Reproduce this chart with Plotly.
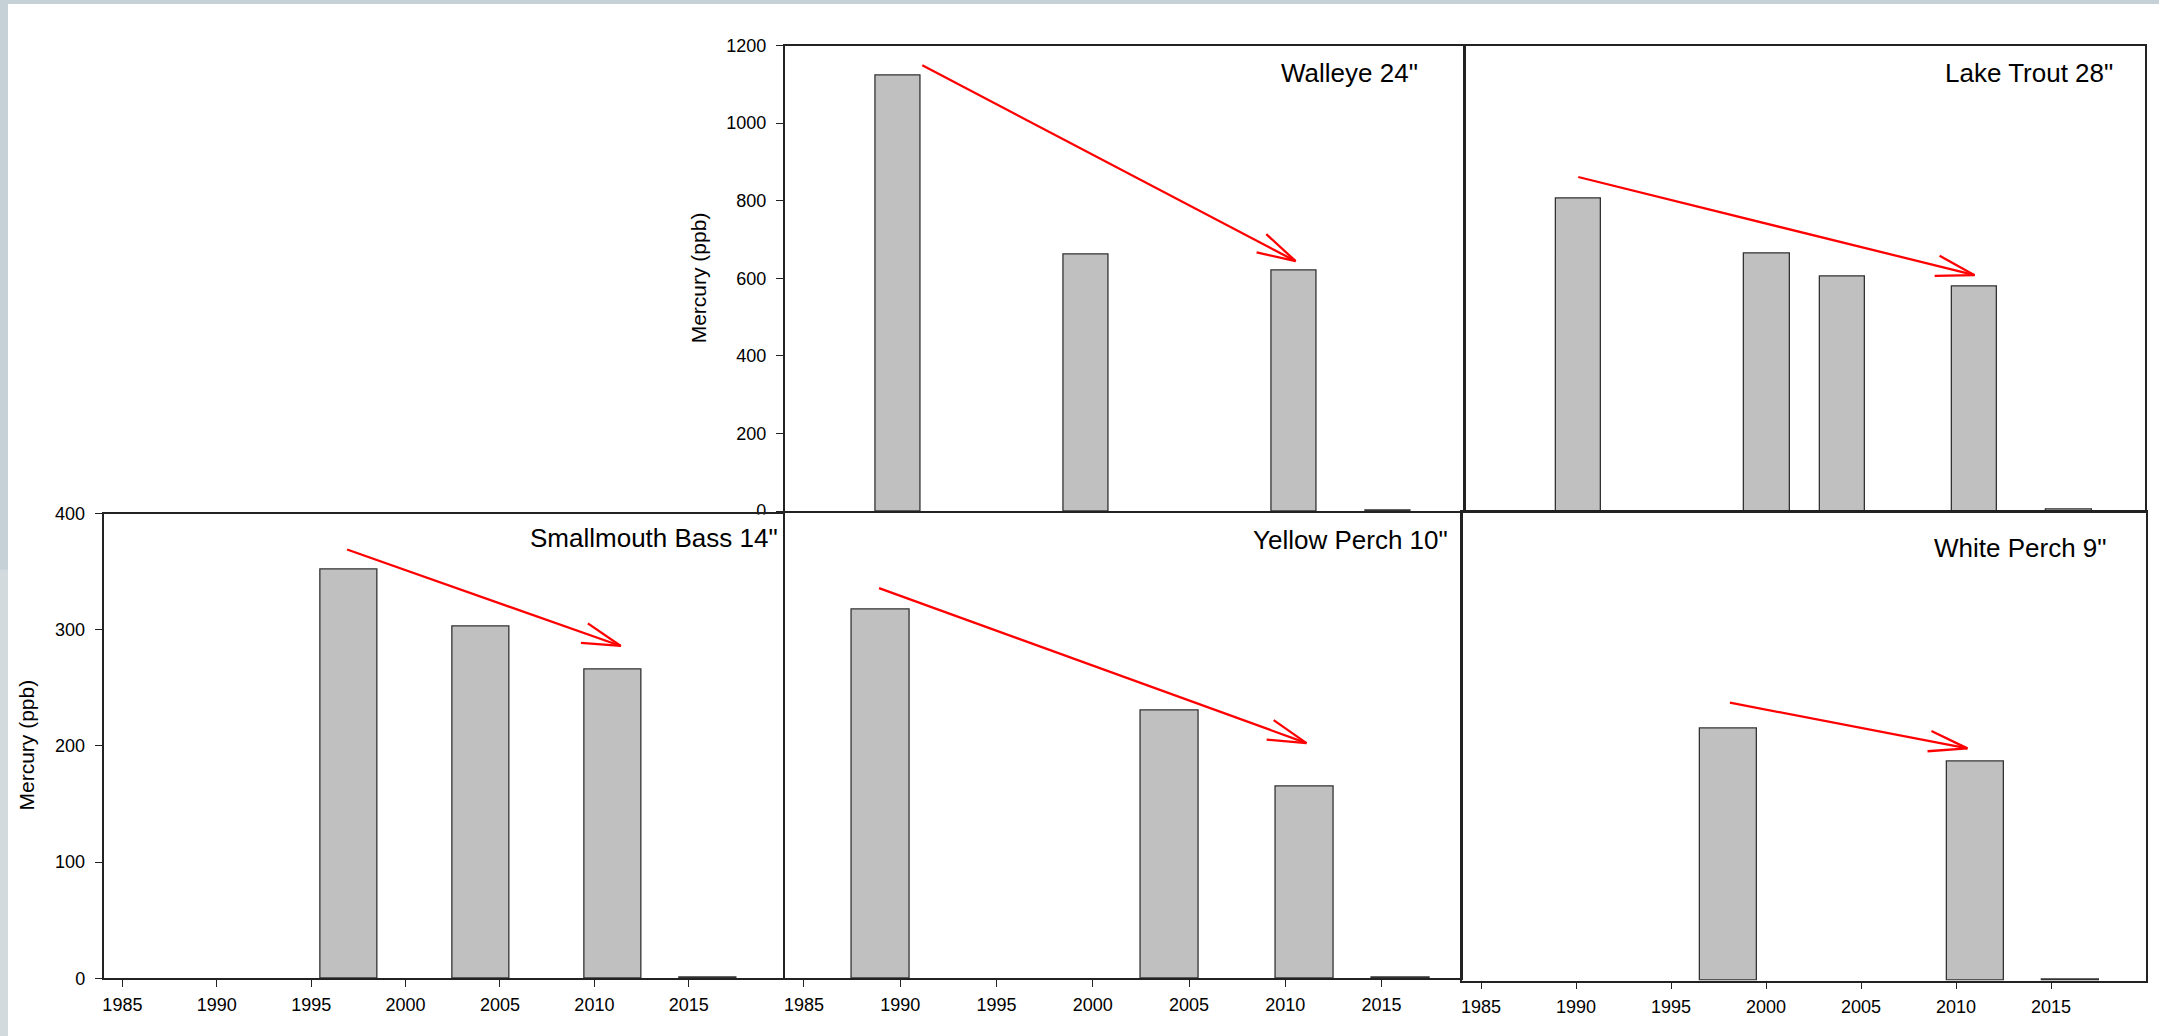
import math
import plotly.graph_objects as go

# ---------------- data ----------------
walleye_years = [1990, 2000, 2011, 2016]
walleye_hg = [1123, 661, 619, 2]

trout_years = [1990, 2000, 2004, 2011, 2016]
trout_hg = [806, 664, 604, 580, 3]

bass_years = [1997, 2004, 2011, 2016]
bass_hg = [352, 303, 266, 1]

yperch_years = [1989, 2004, 2011, 2016]
yperch_hg = [317, 230, 165, 1]

wperch_years = [1998, 2011, 2016]
wperch_hg = [215, 187, 1]

panel_titles = ['Walleye 24"', 'Lake Trout 28"', 'Smallmouth Bass 14"',
                'Yellow Perch 10"', 'White Perch 9"']
year_ticks = [1985, 1990, 1995, 2000, 2005, 2010, 2015]
top_yticks = [0, 200, 400, 600, 800, 1000, 1200]
bottom_yticks = [0, 100, 200, 300, 400]
y_title = "Mercury (ppb)"

# trend arrows: (start year, start value, end year, end value)
arrow_walleye = [1991.3, 1149, 2011.1, 644]
arrow_trout = [1990.0, 861, 2011.0, 608]
arrow_bass = [1996.9, 369, 2011.4, 286]
arrow_yperch = [1988.9, 335, 2011.1, 202]
arrow_wperch = [1998.1, 237, 2010.6, 198]

# ---------------- layout geometry (pixels) ----------------
W, H = 2159, 1036
FONT = "Liberation Sans, Arial, sans-serif"
TICK_SIZE = 18

panels = [
    dict(years=walleye_years, vals=walleye_hg, bw=2.4, xp=(784.6, 1463.5), yp=(45.5, 511.0),
         xr=(1984, 2020), yr=(0, 1200), yt=top_yticks, showy=True, showx=False,
         arrow=arrow_walleye, inset=43.5, capy=74.0),
    dict(years=trout_years, vals=trout_hg, bw=2.4, xp=(1465.0, 2144.5), yp=(45.5, 511.0),
         xr=(1984, 2020), yr=(0, 1200), yt=top_yticks, showy=False, showx=False,
         arrow=arrow_trout, inset=29.5, capy=74.0),
    dict(years=bass_years, vals=bass_hg, bw=3.0, xp=(103.5, 783.2), yp=(513.5, 978.3),
         xr=(1984, 2020), yr=(0, 400), yt=bottom_yticks, showy=True, showx=True,
         arrow=arrow_bass, inset=3.5, capy=538.8),
    dict(years=yperch_years, vals=yperch_hg, bw=3.0, xp=(784.7, 1460.5), yp=(512.5, 978.3),
         xr=(1984, 2019.1), yr=(0, 400), yt=bottom_yticks, showy=False, showx=True,
         arrow=arrow_yperch, inset=10.3, capy=541.3),
    dict(years=wperch_years, vals=wperch_hg, bw=3.0, xp=(1462.0, 2146.0), yp=(511.6, 980.5),
         xr=(1984, 2020), yr=(0, 400), yt=bottom_yticks, showy=False, showx=True,
         arrow=arrow_wperch, inset=36.6, capy=548.8),
]

fig = go.Figure()
layout = dict(
    width=W, height=H, margin=dict(l=0, r=0, t=0, b=0, pad=0, autoexpand=False),
    paper_bgcolor="#c6d0d7", plot_bgcolor="white",
    showlegend=False, font=dict(family=FONT, color="black", size=17),
    bargap=0,
)
shapes = [
    dict(type="rect", xref="paper", yref="paper", x0=8 / W, x1=1, y0=0, y1=1 - 4 / H,
         fillcolor="white", line=dict(width=0), layer="below"),
    dict(type="rect", xref="paper", yref="paper", x0=0, x1=8 / W, y0=0, y1=0.45,
         fillcolor="#d3dade", line=dict(width=0), layer="below"),
    # the lower panels sit in front of the bottom of the Walleye "0" label
    dict(type="rect", xref="paper", yref="paper", x0=752 / W, x1=779 / W,
         y0=1 - 524 / H, y1=1 - 514.6 / H, fillcolor="white", line=dict(width=0), layer="above"),
]
annotations = []

for i, p in enumerate(panels):
    n = "" if i == 0 else str(i + 1)
    xa, ya = "x" + n, "y" + n
    fig.add_trace(go.Bar(
        x=p["years"], y=p["vals"], width=p["bw"], xaxis=xa, yaxis=ya,
        marker=dict(color="#c0c0c0", line=dict(color="#333333", width=1.3)),
        hoverinfo="x+y",
    ))
    x0p, x1p = p["xp"]
    y0p, y1p = p["yp"]
    layout["xaxis" + n] = dict(
        domain=[x0p / W, x1p / W], range=list(p["xr"]), anchor=ya, automargin=False,
        showgrid=False, zeroline=False, showline=True, mirror=True,
        linecolor="#222222", linewidth=1.5,
        ticks="outside" if p["showx"] else "", ticklen=7, tickwidth=1.3, tickcolor="#222222",
        tickvals=year_ticks if p["showx"] else [], showticklabels=p["showx"],
        tickfont=dict(size=TICK_SIZE, family=FONT), ticklabelstandoff=2,
    )
    layout["yaxis" + n] = dict(
        domain=[1 - y1p / H, 1 - y0p / H], range=list(p["yr"]), anchor=xa, automargin=False,
        showgrid=False, zeroline=False, showline=True, mirror=True,
        linecolor="#222222", linewidth=1.5,
        ticks="outside" if p["showy"] else "", ticklen=7, tickwidth=1.3, tickcolor="#222222",
        tickvals=p["yt"] if p["showy"] else [], showticklabels=p["showy"],
        tickfont=dict(size=TICK_SIZE, family=FONT), ticklabelstandoff=6,
    )
    annotations.append(dict(
        text=panel_titles[i], xref="paper", yref="paper",
        x=(x1p - p["inset"]) / W, y=1 - (p["capy"] - 1) / H,
        xanchor="right", yanchor="middle", showarrow=False,
        font=dict(size=26, family=FONT, color="black"),
    ))
    sx = (x1p - x0p) / (p["xr"][1] - p["xr"][0])
    sy = (y1p - y0p) / (p["yr"][1] - p["yr"][0])
    ax0, ay0, ax1, ay1 = p["arrow"]
    red = dict(color="#ff0000", width=2.3)
    shapes.append(dict(type="line", xref=xa, yref=ya, x0=ax0, y0=ay0, x1=ax1, y1=ay1, line=red))
    dxp = (ax1 - ax0) * sx
    dyp = -(ay1 - ay0) * sy
    th = math.atan2(dyp, dxp) + math.pi
    for s in (1, -1):
        a = th + s * math.radians(15)
        ox, oy = 40 * math.cos(a), 40 * math.sin(a)
        shapes.append(dict(type="line", xref=xa, yref=ya, x0=ax1, y0=ay1,
                           x1=ax1 + ox / sx, y1=ay1 - oy / sy, line=red))

annotations.append(dict(text=y_title, xref="paper", yref="paper", x=698 / W, y=1 - 278.3 / H,
                        xanchor="center", yanchor="middle", textangle=-90, showarrow=False,
                        font=dict(size=21, family=FONT, color="black")))
annotations.append(dict(text=y_title, xref="paper", yref="paper", x=25.5 / W, y=1 - 745 / H,
                        xanchor="center", yanchor="middle", textangle=-90, showarrow=False,
                        font=dict(size=21, family=FONT, color="black")))

layout["shapes"] = shapes
layout["annotations"] = annotations
fig.update_layout(**layout)
fig.write_html(
    "out.html",
    config={"displayModeBar": False},
    post_script="document.body.style.margin='0px';document.body.style.overflow='hidden';",
)
